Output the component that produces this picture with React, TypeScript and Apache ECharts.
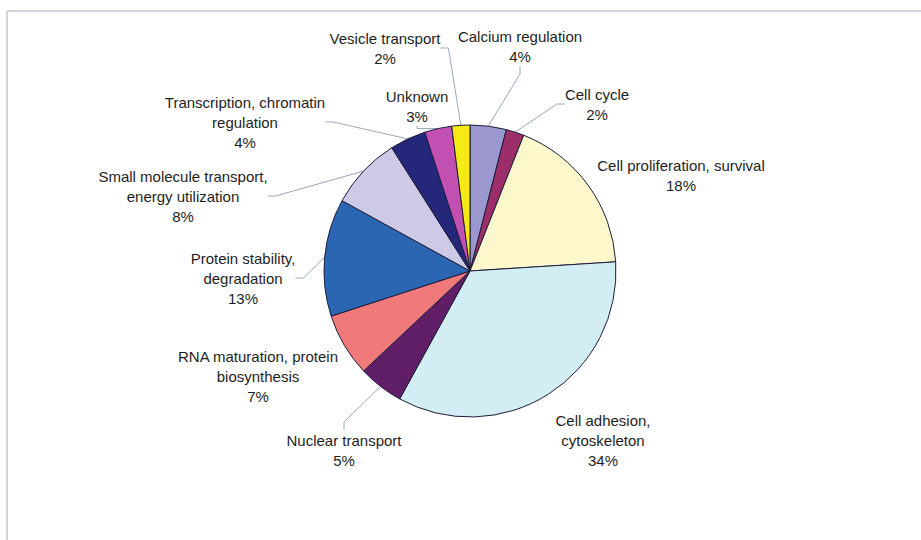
import React, { useEffect, useRef } from "react";
import * as echarts from "echarts";

const categories = [
  "Calcium regulation",
  "Cell cycle",
  "Cell proliferation, survival",
  "Cell adhesion, cytoskeleton",
  "Nuclear transport",
  "RNA maturation, protein biosynthesis",
  "Protein stability, degradation",
  "Small molecule transport, energy utilization",
  "Transcription, chromatin regulation",
  "Unknown",
  "Vesicle transport",
];

// label text split into display lines
const labelLines = [
  ["Calcium regulation"],
  ["Cell cycle"],
  ["Cell proliferation, survival"],
  ["Cell adhesion,", "cytoskeleton"],
  ["Nuclear transport"],
  ["RNA maturation, protein", "biosynthesis"],
  ["Protein stability,", "degradation"],
  ["Small molecule transport,", "energy utilization"],
  ["Transcription, chromatin", "regulation"],
  ["Unknown"],
  ["Vesicle transport"],
];

const percents = [4, 2, 18, 34, 5, 7, 13, 8, 4, 3, 2];

const colors = [
  "#9B98CF",
  "#9C2F6A",
  "#FDF8CC",
  "#D3EDF5",
  "#5F1E66",
  "#F07A7A",
  "#2B66B2",
  "#CCCAE6",
  "#25287A",
  "#C24FB2",
  "#F5EA14",
];

// which slices show a leader line
const showLine = [true, true, false, false, true, false, true, true, true, true, true];

// label block centres (layout)
const labelPos: [number, number][] = [
  [520, 46],
  [597, 104],
  [681, 175],
  [603, 440],
  [344, 450],
  [258, 376],
  [243, 278],
  [183, 196],
  [245, 122],
  [417, 106],
  [385, 48],
];

export default function App() {
  const ref = useRef<HTMLDivElement>(null);
  useEffect(() => {
    if (!ref.current) return;
    const chart = echarts.init(ref.current, null, { renderer: "svg" });
    chart.setOption({
      animation: false,
      backgroundColor: "#ffffff",
      graphic: [
        {
          type: "line",
          shape: { x1: 7, y1: 11, x2: 921, y2: 11 },
          style: { stroke: "#c6c6d0", lineWidth: 1.5 },
        },
        {
          type: "line",
          shape: { x1: 7, y1: 11, x2: 7, y2: 540 },
          style: { stroke: "#c6c6d0", lineWidth: 1.5 },
        },
      ],
      series: [
        {
          type: "pie",
          center: [470, 271],
          radius: 146,
          startAngle: 90,
          clockwise: true,
          avoidLabelOverlap: false,
          data: categories.map((c, i) => ({
            name: c,
            value: percents[i],
            itemStyle: { color: colors[i] },
            labelLine: { show: showLine[i] },
          })),
          itemStyle: { borderColor: "#1c1c3a", borderWidth: 1 },
          label: {
            show: true,
            position: "outside",
            formatter: (p: any) =>
              labelLines[p.dataIndex].join("\n") + "\n" + percents[p.dataIndex] + "%",
            fontFamily: "Liberation Sans, Arial, sans-serif",
            fontSize: 15,
            lineHeight: 20,
            color: "#1e1e1e",
            align: "center",
          },
          labelLine: {
            show: true,
            length: 10,
            length2: 8,
            smooth: false,
            lineStyle: { color: "#9aa9b8", width: 1 },
          },
          labelLayout: (params: any) => {
            const p = labelPos[params.dataIndex];
            return {
              x: p[0],
              y: p[1],
              align: "center",
              verticalAlign: "middle",
            };
          },
          emphasis: { disabled: true },
        },
      ],
    });
    return () => chart.dispose();
  }, []);
  return (
    <div
      ref={ref}
      style={{ position: "absolute", left: 0, top: 0, width: 921, height: 540 }}
    />
  );
}
